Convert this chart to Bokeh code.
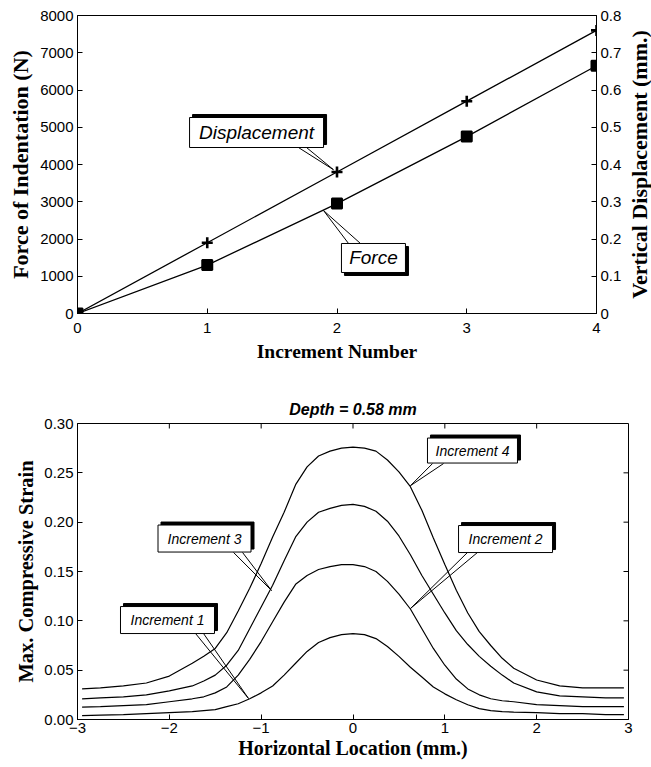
import math
from bokeh.plotting import figure
from bokeh.models import LinearAxis, Range1d, FixedTicker, NumeralTickFormatter, Title
from bokeh.layouts import column, row
from bokeh.embed import file_html
from bokeh.resources import INLINE
from bokeh.core.properties import value

# ---------------- data: top chart ----------------
increments = [0, 1, 2, 3, 4]
force_N = [0, 1300, 2950, 4750, 6650]
displacement_mm = [0, 0.19, 0.38, 0.57, 0.76]

force_ticks = [0, 1000, 2000, 3000, 4000, 5000, 6000, 7000, 8000]
disp_ticks = [0, 0.1, 0.2, 0.3, 0.4, 0.5, 0.6, 0.7, 0.8]
inc_ticks = [0, 1, 2, 3, 4]

# ---------------- data: bottom chart ----------------
x_mm = [-2.95, -2.75, -2.5, -2.25, -2.0, -1.75, -1.625, -1.5, -1.375, -1.25, -1.125, -1.0,
        -0.875, -0.75, -0.625, -0.5, -0.375, -0.25, -0.125, 0.0, 0.125, 0.25, 0.375, 0.5,
        0.625, 0.75, 0.875, 1.0, 1.125, 1.25, 1.375, 1.5, 1.625, 1.75, 2.0, 2.25, 2.5, 2.75, 2.95]
strain_inc4 = [0.031, 0.032, 0.034, 0.037, 0.044, 0.057, 0.064, 0.072, 0.088, 0.110, 0.133, 0.158,
               0.185, 0.210, 0.238, 0.256, 0.267, 0.272, 0.275, 0.276, 0.275, 0.272, 0.263, 0.251,
               0.236, 0.212, 0.184, 0.157, 0.131, 0.108, 0.089, 0.075, 0.062, 0.052, 0.040, 0.034,
               0.032, 0.032, 0.032]
strain_inc3 = [0.021, 0.022, 0.023, 0.025, 0.029, 0.034, 0.039, 0.045, 0.055, 0.070, 0.092, 0.114,
               0.136, 0.161, 0.185, 0.200, 0.210, 0.214, 0.217, 0.218, 0.216, 0.211, 0.201, 0.186,
               0.167, 0.146, 0.127, 0.108, 0.090, 0.076, 0.064, 0.054, 0.045, 0.037, 0.028, 0.024,
               0.023, 0.022, 0.022]
strain_inc2 = [0.0125, 0.013, 0.014, 0.015, 0.018, 0.021, 0.023, 0.027, 0.033, 0.045, 0.061, 0.079,
               0.099, 0.119, 0.137, 0.146, 0.152, 0.155, 0.157, 0.157, 0.155, 0.150, 0.140, 0.127,
               0.112, 0.092, 0.072, 0.055, 0.041, 0.031, 0.025, 0.021, 0.019, 0.018, 0.015, 0.014,
               0.013, 0.013, 0.013]
strain_inc1 = [0.004, 0.0045, 0.005, 0.006, 0.007, 0.008, 0.009, 0.010, 0.013, 0.016, 0.021, 0.027,
               0.034, 0.045, 0.057, 0.069, 0.078, 0.083, 0.086, 0.087, 0.086, 0.082, 0.074, 0.064,
               0.053, 0.043, 0.033, 0.026, 0.020, 0.015, 0.011, 0.009, 0.008, 0.0075, 0.007, 0.006,
               0.006, 0.005, 0.005]

strain_ticks = [0, 0.05, 0.10, 0.15, 0.20, 0.25, 0.30]
loc_ticks = [-3, -2, -1, 0, 1, 2, 3]

TICK_FONT = "Liberation Sans"
TITLE_FONT = "Liberation Serif"


def style_axis(ax, label_size="15px", title_size="19px"):
    ax.major_tick_in = 5
    ax.major_tick_out = 0
    ax.minor_tick_in = 0
    ax.minor_tick_out = 0
    ax.axis_line_color = "black"
    ax.major_tick_line_color = "black"
    ax.major_label_text_font = TICK_FONT
    ax.major_label_text_font_size = label_size
    ax.major_label_text_color = "black"
    ax.axis_label_text_font = TITLE_FONT
    ax.axis_label_text_font_style = "bold"
    ax.axis_label_text_font_size = title_size
    ax.axis_label_text_color = "black"


def callout(p, cx, cy, w, h, txt, size, sdx, sdy, base, tip):
    # pointer wedge
    for bx, by in base:
        p.segment(x0=[bx], y0=[by], x1=[tip[0]], y1=[tip[1]], line_color="black", line_width=1)
    # shadow
    p.rect(x=[cx + sdx], y=[cy + sdy], width=w, height=h, width_units="screen",
           height_units="screen", fill_color="black", line_color="black")
    # box
    p.rect(x=[cx], y=[cy], width=w, height=h, width_units="screen", height_units="screen",
           fill_color="white", line_color="black", line_width=1)
    p.text(x=[cx], y=[cy], text=[txt], text_align="center", text_baseline="middle",
           text_font=value(TICK_FONT), text_font_style="italic", text_font_size=size,
           text_color="black")


# ================= TOP CHART =================
p1 = figure(frame_width=519, frame_height=298, min_border_left=77, min_border_right=31,
            min_border_top=15, min_border_bottom=57,
            x_range=Range1d(0, 4), y_range=Range1d(0, 8000),
            output_backend="svg", toolbar_location=None)
p1.extra_y_ranges = {"disp": Range1d(0, 0.8)}
p1.xgrid.visible = False
p1.ygrid.visible = False
p1.outline_line_color = "black"
p1.background_fill_color = "white"
p1.border_fill_color = "white"

p1.xaxis.ticker = FixedTicker(ticks=inc_ticks)
p1.yaxis.ticker = FixedTicker(ticks=force_ticks)
p1.xaxis.axis_label = "Increment Number"
p1.yaxis.axis_label = "Force of Indentation (N)"
for ax in p1.xaxis:
    style_axis(ax, title_size="19.5px")
    ax.major_label_standoff = 9
    ax.axis_label_standoff = 5
for ax in p1.yaxis:
    style_axis(ax, title_size="22px")
    ax.major_label_standoff = 4
    ax.axis_label_standoff = 4

r_ax = LinearAxis(y_range_name="disp", ticker=FixedTicker(ticks=disp_ticks))
style_axis(r_ax)
r_ax.major_label_standoff = 4
p1.add_layout(r_ax, "right")

p1.line(increments, force_N, line_color="black", line_width=1.3)
p1.line(increments, displacement_mm, y_range_name="disp", line_color="black", line_width=1.3)
p1.scatter(increments, force_N, marker="square_x", size=10, fill_color="black",
           line_color="black", line_width=2)
p1.scatter(increments, displacement_mm, y_range_name="disp", marker="cross", size=11,
           line_color="black", line_width=2.6)

# callouts (positions in data units)
sx1 = 3 / 129.75
sy1 = 3 / 0.03725
callout(p1, 1.380, 4859, 134, 30, "Displacement", "19px", sx1, sy1,
        [(1.703, 4456), (1.765, 4456)], (1.973, 3860))
callout(p1, 2.281, 1490, 64, 29, "Force", "19px", sx1, -sy1,
        [(2.089, 1879), (2.181, 1879)], (1.896, 2765))

# right-hand axis title in its own narrow panel (reads bottom to top)
pt = figure(frame_width=24, frame_height=298, min_border_left=0, min_border_right=0,
            min_border_top=15, min_border_bottom=57,
            x_range=Range1d(0, 1), y_range=Range1d(0, 1),
            output_backend="svg", toolbar_location=None)
pt.axis.visible = False
pt.grid.visible = False
pt.outline_line_color = None
pt.text(x=[0.5], y=[0.5], text=["Vertical Displacement (mm.)"], angle=math.pi / 2,
        text_align="center", text_baseline="middle", text_font=value(TITLE_FONT),
        text_font_style="bold", text_font_size="22px", text_color="black")

# ================= BOTTOM CHART =================
p2 = figure(frame_width=551, frame_height=296, min_border_left=77, min_border_right=20,
            min_border_top=53, min_border_bottom=44,
            x_range=Range1d(-3, 3), y_range=Range1d(0, 0.30),
            output_backend="svg", toolbar_location=None)
p2.xgrid.visible = False
p2.ygrid.visible = False
p2.outline_line_color = "black"
p2.background_fill_color = "white"
p2.border_fill_color = "white"
p2.title = Title(text="Depth = 0.58 mm", align="center", text_font=TICK_FONT,
                 text_font_style="bold italic", text_font_size="16px", text_color="black",
                 standoff=12)

p2.xaxis.ticker = FixedTicker(ticks=loc_ticks)
p2.xaxis.major_label_overrides = {t: (str(t).replace("-", "\u2212")) for t in loc_ticks}
p2.yaxis.ticker = FixedTicker(ticks=strain_ticks)
p2.yaxis.formatter = NumeralTickFormatter(format="0.00")
p2.xaxis.axis_label = "Horizontal Location (mm.)"
p2.yaxis.axis_label = "Max. Compressive Strain"
for ax in p2.xaxis:
    style_axis(ax, title_size="20px")
    ax.major_label_standoff = 3
    ax.axis_label_standoff = 1
for ax in p2.yaxis:
    style_axis(ax, title_size="20.5px")
    ax.major_label_standoff = 4
    ax.axis_label_standoff = 4

# inward tick marks on the top and right edges (half of each dash is clipped by the frame)
top_ticks = [-2, -1, 0, 1, 2]
right_ticks = [0.05, 0.10, 0.15, 0.20, 0.25]
p2.scatter(top_ticks, [0.30] * len(top_ticks), marker="dash", angle=math.pi / 2, size=10,
           line_color="black", line_width=1)
p2.scatter([3] * len(right_ticks), right_ticks, marker="dash", size=10,
           line_color="black", line_width=1)

for ys in (strain_inc4, strain_inc3, strain_inc2, strain_inc1):
    p2.line(x_mm, ys, line_color="black", line_width=1.2)

sx2 = 3 / 91.83
sy2 = 3 / 986.7
callout(p2, 1.301, 0.2726, 90, 25, "Increment 4", "14px", sx2, sy2,
        [(0.866, 0.2594), (0.986, 0.2594)], (0.626, 0.237))
callout(p2, 1.661, 0.1829, 94, 27, "Increment 2", "14px", sx2, sy2,
        [(1.247, 0.1693), (1.356, 0.1693)], (0.626, 0.1125))
callout(p2, -1.617, 0.1834, 93, 27, "Increment 3", "14px", sx2, sy2,
        [(-1.301, 0.1693), (-1.203, 0.1693)], (-0.887, 0.1307))
callout(p2, -2.020, 0.1008, 94, 27, "Increment 1", "14px", sx2, sy2,
        [(-1.715, 0.0872), (-1.628, 0.0872)], (-1.138, 0.0213))

layout = column(row(p1, pt), p2)
open("out.html", "w").write(file_html(layout, INLINE))
